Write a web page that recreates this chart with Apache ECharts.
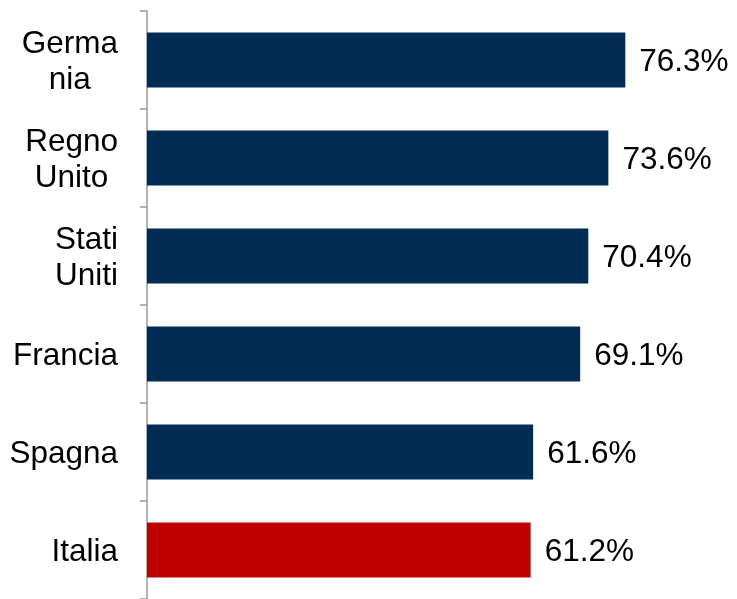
<!DOCTYPE html>
<html>
<head>
<meta charset="utf-8">
<script src="https://cdn.jsdelivr.net/npm/echarts@6/dist/echarts.min.js"></script>
<style>
  html, body { margin: 0; padding: 0; background: #ffffff; }
  #chart { width: 737px; height: 599px; }
</style>
</head>
<body>
<div id="chart"></div>
<script>
// Countries, top to bottom
const countries = ['Germania', 'Regno Unito', 'Stati Uniti', 'Francia', 'Spagna', 'Italia'];
// Two-line label text for each country
const countryLabels = ['Germa\nnia', 'Regno\nUnito', 'Stati\nUniti', 'Francia', 'Spagna', 'Italia'];
// Percentage values
const values = [76.3, 73.6, 70.4, 69.1, 61.6, 61.2];
// Bar fill per country (Italy highlighted)
const barColors = ['#002C54', '#002C54', '#002C54', '#002C54', '#002C54', '#C00000'];

const FONT = 'Liberation Sans, Arial, sans-serif';
const chart = echarts.init(document.getElementById('chart'));

chart.setOption({
  animation: false,
  backgroundColor: '#ffffff',
  grid: { left: 147, top: 11, width: 501.5, height: 590, containLabel: false },
  xAxis: {
    type: 'value',
    min: 0,
    max: 80,
    show: false
  },
  yAxis: {
    type: 'category',
    inverse: true,
    data: countries,
    axisLine: { show: true, lineStyle: { color: '#9a9a9a', width: 1.5 } },
    axisTick: { show: true, length: 7, lineStyle: { color: '#9a9a9a', width: 1.5 } },
    splitLine: { show: false },
    axisLabel: {
      margin: 29,
      align: 'right',
      lineHeight: 36,
      padding: [4, 0, 0, 0],
      fontFamily: FONT,
      fontSize: 31.5,
      color: '#000000',
      formatter: function (v, i) {
        return countryLabels[i].split('\n').map(function (s) { return '{c|' + s + '}'; }).join('\n');
      },
      rich: {
        c: { align: 'center', fontFamily: FONT, fontSize: 31.5, lineHeight: 36, color: '#000000' }
      }
    }
  },
  series: [{
    type: 'bar',
    barWidth: 55,
    data: values.map(function (v, i) {
      return { value: v, itemStyle: { color: barColors[i] } };
    }),
    label: {
      show: true,
      position: 'right',
      distance: 14,
      offset: [0, 2],
      fontFamily: FONT,
      fontSize: 31.5,
      color: '#000000',
      formatter: function (p) { return p.value.toFixed(1) + '%'; }
    }
  }]
});
</script>
</body>
</html>
